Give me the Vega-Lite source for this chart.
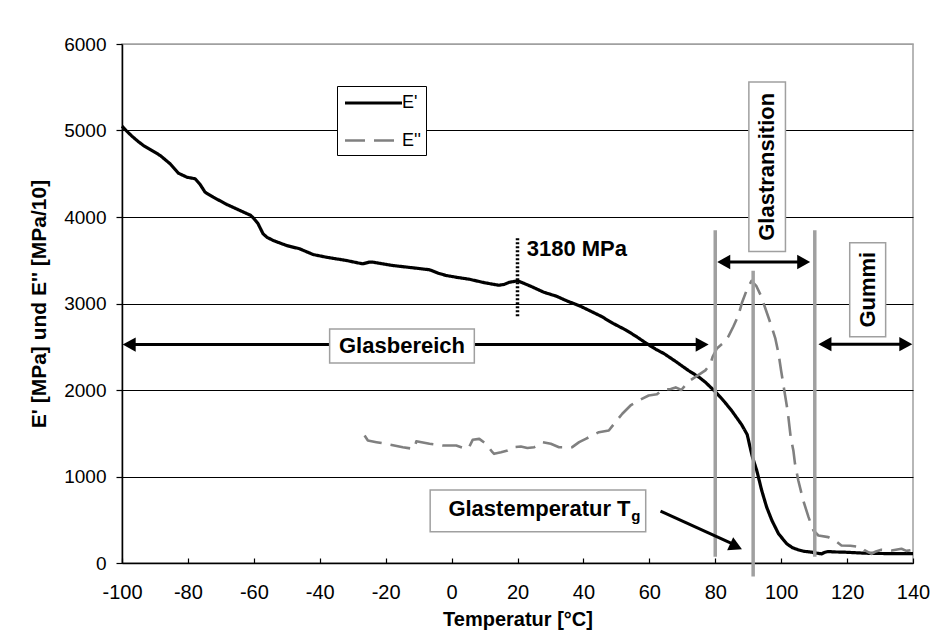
{
  "$schema": "https://vega.github.io/schema/vega-lite/v6.json",
  "width": 791,
  "height": 519,
  "autosize": {"type": "none"},
  "padding": {"left": 122, "top": 44, "right": 34, "bottom": 79},
  "background": "white",
  "config": {
    "view": {"stroke": "#a0a0a0", "strokeWidth": 1.5},
    "font": "Liberation Sans",
    "axis": {
      "domainColor": "black",
      "domainWidth": 1.5,
      "tickColor": "black",
      "tickWidth": 1.2,
      "labelColor": "black",
      "titleColor": "black",
      "labelFont": "Liberation Sans",
      "titleFont": "Liberation Sans",
      "titleFontWeight": "bold",
      "labelFlush": false
    },
    "axisX": {"labelFontSize": 20, "titleFontSize": 20, "tickSize": -5, "labelPadding": 24, "titlePadding": 7, "grid": false},
    "axisY": {"labelFontSize": 19, "titleFontSize": 21, "tickSize": 6, "labelPadding": 10, "titlePadding": 14},
    "legend": {
      "title": null, "strokeColor": "black", "fillColor": "white", "padding": 5,
      "symbolType": "M-2.85,0H2.85", "symbolSize": 400, "symbolStrokeWidth": 3.5, "symbolOffset": 19.5,
      "labelFontSize": 18, "labelFont": "Liberation Sans", "rowPadding": 17, "labelOffset": 16.5
    }
  },
  "datasets": {
    "curves": [
      {"T": -100, "E": 5050, "series": "E'"},
      {"T": -98.5, "E": 4990, "series": "E'"},
      {"T": -97, "E": 4935, "series": "E'"},
      {"T": -95, "E": 4870, "series": "E'"},
      {"T": -93.5, "E": 4827, "series": "E'"},
      {"T": -91, "E": 4770, "series": "E'"},
      {"T": -88.4, "E": 4711, "series": "E'"},
      {"T": -86.5, "E": 4650, "series": "E'"},
      {"T": -85.4, "E": 4615, "series": "E'"},
      {"T": -82.9, "E": 4507, "series": "E'"},
      {"T": -80.3, "E": 4460, "series": "E'"},
      {"T": -77.8, "E": 4442, "series": "E'"},
      {"T": -76.3, "E": 4376, "series": "E'"},
      {"T": -74.8, "E": 4287, "series": "E'"},
      {"T": -72.3, "E": 4229, "series": "E'"},
      {"T": -68.2, "E": 4145, "series": "E'"},
      {"T": -64.2, "E": 4075, "series": "E'"},
      {"T": -61, "E": 4020, "series": "E'"},
      {"T": -60.2, "E": 3991, "series": "E'"},
      {"T": -59.5, "E": 3960, "series": "E'"},
      {"T": -58.7, "E": 3921, "series": "E'"},
      {"T": -57.2, "E": 3806, "series": "E'"},
      {"T": -56, "E": 3765, "series": "E'"},
      {"T": -54.1, "E": 3728, "series": "E'"},
      {"T": -50.1, "E": 3671, "series": "E'"},
      {"T": -46.1, "E": 3632, "series": "E'"},
      {"T": -42, "E": 3566, "series": "E'"},
      {"T": -38, "E": 3535, "series": "E'"},
      {"T": -31.9, "E": 3497, "series": "E'"},
      {"T": -28.5, "E": 3470, "series": "E'"},
      {"T": -26.9, "E": 3459, "series": "E'"},
      {"T": -25, "E": 3478, "series": "E'"},
      {"T": -23.9, "E": 3478, "series": "E'"},
      {"T": -17.8, "E": 3439, "series": "E'"},
      {"T": -11.8, "E": 3413, "series": "E'"},
      {"T": -6.7, "E": 3390, "series": "E'"},
      {"T": -4, "E": 3350, "series": "E'"},
      {"T": -1.7, "E": 3324, "series": "E'"},
      {"T": 2, "E": 3300, "series": "E'"},
      {"T": 5.3, "E": 3281, "series": "E'"},
      {"T": 10, "E": 3240, "series": "E'"},
      {"T": 14.3, "E": 3211, "series": "E'"},
      {"T": 15.9, "E": 3220, "series": "E'"},
      {"T": 17.5, "E": 3245, "series": "E'"},
      {"T": 20.1, "E": 3262, "series": "E'"},
      {"T": 24.3, "E": 3195, "series": "E'"},
      {"T": 28, "E": 3130, "series": "E'"},
      {"T": 31.7, "E": 3086, "series": "E'"},
      {"T": 35, "E": 3030, "series": "E'"},
      {"T": 39.1, "E": 2969, "series": "E'"},
      {"T": 42, "E": 2915, "series": "E'"},
      {"T": 45.4, "E": 2852, "series": "E'"},
      {"T": 49, "E": 2770, "series": "E'"},
      {"T": 52.8, "E": 2695, "series": "E'"},
      {"T": 56, "E": 2620, "series": "E'"},
      {"T": 59.1, "E": 2539, "series": "E'"},
      {"T": 62, "E": 2470, "series": "E'"},
      {"T": 64.4, "E": 2422, "series": "E'"},
      {"T": 68, "E": 2330, "series": "E'"},
      {"T": 71.8, "E": 2227, "series": "E'"},
      {"T": 75, "E": 2150, "series": "E'"},
      {"T": 77, "E": 2090, "series": "E'"},
      {"T": 79.7, "E": 1992, "series": "E'"},
      {"T": 81.5, "E": 1920, "series": "E'"},
      {"T": 83.4, "E": 1836, "series": "E'"},
      {"T": 85, "E": 1760, "series": "E'"},
      {"T": 86.5, "E": 1680, "series": "E'"},
      {"T": 88, "E": 1600, "series": "E'"},
      {"T": 89.7, "E": 1484, "series": "E'"},
      {"T": 90.8, "E": 1300, "series": "E'"},
      {"T": 91.3, "E": 1223, "series": "E'"},
      {"T": 92.6, "E": 1069, "series": "E'"},
      {"T": 94.1, "E": 838, "series": "E'"},
      {"T": 95.6, "E": 645, "series": "E'"},
      {"T": 97.2, "E": 491, "series": "E'"},
      {"T": 99.2, "E": 338, "series": "E'"},
      {"T": 101.7, "E": 222, "series": "E'"},
      {"T": 103.5, "E": 175, "series": "E'"},
      {"T": 105.2, "E": 152, "series": "E'"},
      {"T": 107, "E": 135, "series": "E'"},
      {"T": 109.3, "E": 125, "series": "E'"},
      {"T": 110.5, "E": 115, "series": "E'"},
      {"T": 112.3, "E": 106, "series": "E'"},
      {"T": 113, "E": 120, "series": "E'"},
      {"T": 114.3, "E": 133, "series": "E'"},
      {"T": 116, "E": 128, "series": "E'"},
      {"T": 119.4, "E": 125, "series": "E'"},
      {"T": 125.4, "E": 113, "series": "E'"},
      {"T": 130, "E": 110, "series": "E'"},
      {"T": 135, "E": 108, "series": "E'"},
      {"T": 140, "E": 108, "series": "E'"},
      {"T": -26.4, "E": 1474, "series": "E''"},
      {"T": -25.4, "E": 1416, "series": "E''"},
      {"T": -22.8, "E": 1397, "series": "E''"},
      {"T": -18.8, "E": 1370, "series": "E''"},
      {"T": -14.8, "E": 1339, "series": "E''"},
      {"T": -11.8, "E": 1320, "series": "E''"},
      {"T": -11.2, "E": 1330, "series": "E''"},
      {"T": -10.7, "E": 1408, "series": "E''"},
      {"T": -6.7, "E": 1378, "series": "E''"},
      {"T": -2.7, "E": 1358, "series": "E''"},
      {"T": 1.4, "E": 1358, "series": "E''"},
      {"T": 4.4, "E": 1320, "series": "E''"},
      {"T": 5.2, "E": 1330, "series": "E''"},
      {"T": 6.4, "E": 1424, "series": "E''"},
      {"T": 8.4, "E": 1435, "series": "E''"},
      {"T": 10.4, "E": 1378, "series": "E''"},
      {"T": 12.4, "E": 1281, "series": "E''"},
      {"T": 12.9, "E": 1262, "series": "E''"},
      {"T": 15, "E": 1280, "series": "E''"},
      {"T": 17, "E": 1300, "series": "E''"},
      {"T": 18.5, "E": 1339, "series": "E''"},
      {"T": 21, "E": 1347, "series": "E''"},
      {"T": 23, "E": 1330, "series": "E''"},
      {"T": 25.1, "E": 1339, "series": "E''"},
      {"T": 27.6, "E": 1397, "series": "E''"},
      {"T": 30.1, "E": 1378, "series": "E''"},
      {"T": 32.6, "E": 1339, "series": "E''"},
      {"T": 36.6, "E": 1339, "series": "E''"},
      {"T": 38.7, "E": 1397, "series": "E''"},
      {"T": 40.7, "E": 1435, "series": "E''"},
      {"T": 44.7, "E": 1512, "series": "E''"},
      {"T": 47.7, "E": 1532, "series": "E''"},
      {"T": 49.7, "E": 1628, "series": "E''"},
      {"T": 51.8, "E": 1725, "series": "E''"},
      {"T": 54.3, "E": 1821, "series": "E''"},
      {"T": 56.8, "E": 1879, "series": "E''"},
      {"T": 59.8, "E": 1936, "series": "E''"},
      {"T": 62.3, "E": 1950, "series": "E''"},
      {"T": 64, "E": 2005, "series": "E''"},
      {"T": 66.5, "E": 2012, "series": "E''"},
      {"T": 68, "E": 2030, "series": "E''"},
      {"T": 69.7, "E": 2000, "series": "E''"},
      {"T": 72, "E": 2100, "series": "E''"},
      {"T": 73.9, "E": 2148, "series": "E''"},
      {"T": 77, "E": 2227, "series": "E''"},
      {"T": 78.5, "E": 2300, "series": "E''"},
      {"T": 79.2, "E": 2383, "series": "E''"},
      {"T": 80.5, "E": 2480, "series": "E''"},
      {"T": 82.3, "E": 2539, "series": "E''"},
      {"T": 84, "E": 2620, "series": "E''"},
      {"T": 85.5, "E": 2734, "series": "E''"},
      {"T": 87, "E": 2860, "series": "E''"},
      {"T": 88.1, "E": 3008, "series": "E''"},
      {"T": 89.5, "E": 3150, "series": "E''"},
      {"T": 91, "E": 3262, "series": "E''"},
      {"T": 92.5, "E": 3200, "series": "E''"},
      {"T": 93.9, "E": 3086, "series": "E''"},
      {"T": 95.5, "E": 2910, "series": "E''"},
      {"T": 97.1, "E": 2734, "series": "E''"},
      {"T": 98.2, "E": 2600, "series": "E''"},
      {"T": 99.2, "E": 2422, "series": "E''"},
      {"T": 100, "E": 2220, "series": "E''"},
      {"T": 100.8, "E": 2031, "series": "E''"},
      {"T": 102, "E": 1750, "series": "E''"},
      {"T": 102.9, "E": 1450, "series": "E''"},
      {"T": 103.7, "E": 1301, "series": "E''"},
      {"T": 104.2, "E": 1147, "series": "E''"},
      {"T": 105.2, "E": 954, "series": "E''"},
      {"T": 106.7, "E": 723, "series": "E''"},
      {"T": 108.3, "E": 530, "series": "E''"},
      {"T": 109.8, "E": 376, "series": "E''"},
      {"T": 111.3, "E": 318, "series": "E''"},
      {"T": 114.3, "E": 299, "series": "E''"},
      {"T": 116.3, "E": 260, "series": "E''"},
      {"T": 118.3, "E": 202, "series": "E''"},
      {"T": 121, "E": 200, "series": "E''"},
      {"T": 124.4, "E": 183, "series": "E''"},
      {"T": 125.4, "E": 145, "series": "E''"},
      {"T": 127.4, "E": 106, "series": "E''"},
      {"T": 128.5, "E": 130, "series": "E''"},
      {"T": 130.4, "E": 152, "series": "E''"},
      {"T": 133.5, "E": 145, "series": "E''"},
      {"T": 136.5, "E": 164, "series": "E''"},
      {"T": 138, "E": 140, "series": "E''"},
      {"T": 140, "E": 152, "series": "E''"}
    ],
    "vlines": [
      {"T": 80, "E": 73, "E2": 3848},
      {"T": 110.2, "E": 73, "E2": 3848},
      {"T": 91.5, "E": -155, "E2": 3379}
    ],
    "dotted": [{"T": 20, "E": 2852, "E2": 3770}],
    "shafts": [
      {"T": -98, "E": 2525, "T2": 76, "E2": 2525},
      {"T": 82.5, "E": 3480, "T2": 107, "E2": 3480},
      {"T": 113.3, "E": 2530, "T2": 138, "E2": 2530},
      {"T": 63.4, "E": 601, "T2": 85.6, "E2": 215}
    ],
    "headsRight": [
      {"T": 78, "E": 2525},
      {"T": 108.8, "E": 3480},
      {"T": 139.8, "E": 2530}
    ],
    "headsLeft": [
      {"T": -99.8, "E": 2525},
      {"T": 80.6, "E": 3480},
      {"T": 111.3, "E": 2530}
    ],
    "headsDiag": [{"T": 88.1, "E": 158}],
    "boxes": [
      {"T": -37, "T2": 6.9, "E": 2312, "E2": 2705},
      {"T": 90.2, "T2": 101.3, "E": 3601, "E2": 5560},
      {"T": 120.8, "T2": 131.7, "E": 2617, "E2": 3703},
      {"T": -6.5, "T2": 58.9, "E": 362, "E2": 844}
    ],
    "textCenter": [{"T": -15.05, "E": 2508, "label": "Glasbereich"}],
    "textVertical": [
      {"T": 95.75, "E": 4580, "label": "Glastransition"},
      {"T": 126.25, "E": 3160, "label": "Gummi"}
    ],
    "textLeft": [{"T": 22.8, "E": 3547, "label": "3180 MPa"}],
    "textRight": [{"T": 54.3, "E": 549, "label": "Glastemperatur T"}],
    "textSub": [{"T": 54.5, "E": 491, "label": "g"}]
  },
  "layer": [
    {
      "data": {"name": "curves"},
      "mark": {"type": "line", "strokeCap": "butt", "strokeJoin": "round"},
      "encoding": {
        "x": {
          "field": "T", "type": "quantitative", "title": "Temperatur [°C]",
          "scale": {"domain": [-100, 140], "nice": false, "zero": false},
          "axis": {
            "values": [-100, -90, -80, -70, -60, -50, -40, -30, -20, -10, 0, 10, 20, 30, 40, 50, 60, 70, 80, 90, 100, 110, 120, 130, 140],
            "labelExpr": "datum.value % 20 == 0 ? '' + datum.value : ''"
          }
        },
        "y": {
          "field": "E", "type": "quantitative", "title": "E' [MPa] und E'' [MPa/10]",
          "scale": {"domain": [0, 6000], "nice": false},
          "axis": {
            "values": [0, 1000, 2000, 3000, 4000, 5000, 6000],
            "format": "d",
            "grid": true,
            "gridWidth": 1,
            "gridColor": {"condition": {"test": "datum.value >= 6000", "value": "#a0a0a0"}, "value": "black"}
          }
        },
        "color": {
          "field": "series", "type": "nominal",
          "scale": {"domain": ["E'", "E''"], "range": ["black", "#808080"]},
          "legend": {"orient": "none", "legendX": 215, "legendY": 42}
        },
        "strokeDash": {
          "field": "series", "type": "nominal",
          "scale": {"domain": ["E'", "E''"], "range": [[1, 0], [20, 9]]},
          "legend": {"orient": "none", "legendX": 215, "legendY": 42}
        },
        "strokeWidth": {
          "field": "series", "type": "ordinal",
          "scale": {"domain": ["E'", "E''"], "range": [3.2, 2.6]},
          "legend": null
        }
      }
    },
    {
      "data": {"name": "vlines"},
      "mark": {"type": "rule", "color": "#a0a0a0", "strokeWidth": 3.5},
      "encoding": {
        "x": {"field": "T", "type": "quantitative", "title": "Temperatur [°C]"},
        "y": {"field": "E", "type": "quantitative", "title": "E' [MPa] und E'' [MPa/10]"},
        "y2": {"field": "E2"}
      }
    },
    {
      "data": {"name": "dotted"},
      "mark": {"type": "rule", "color": "black", "strokeWidth": 3.5, "strokeDash": [2, 2]},
      "encoding": {
        "x": {"field": "T", "type": "quantitative", "title": "Temperatur [°C]"},
        "y": {"field": "E", "type": "quantitative", "title": "E' [MPa] und E'' [MPa/10]"},
        "y2": {"field": "E2"}
      }
    },
    {
      "data": {"name": "shafts"},
      "mark": {"type": "rule", "color": "black", "strokeWidth": 3},
      "encoding": {
        "x": {"field": "T", "type": "quantitative", "title": "Temperatur [°C]"},
        "y": {"field": "E", "type": "quantitative", "title": "E' [MPa] und E'' [MPa/10]"},
        "x2": {"field": "T2"},
        "y2": {"field": "E2"}
      }
    },
    {
      "data": {"name": "headsRight"},
      "mark": {"type": "point", "shape": "M0,0L-2,-1.1L-2,1.1Z", "filled": true, "color": "black", "opacity": 1, "size": 169, "angle": 0},
      "encoding": {
        "x": {"field": "T", "type": "quantitative", "title": "Temperatur [°C]"},
        "y": {"field": "E", "type": "quantitative", "title": "E' [MPa] und E'' [MPa/10]"}
      }
    },
    {
      "data": {"name": "headsLeft"},
      "mark": {"type": "point", "shape": "M0,0L-2,-1.1L-2,1.1Z", "filled": true, "color": "black", "opacity": 1, "size": 169, "angle": 180},
      "encoding": {
        "x": {"field": "T", "type": "quantitative", "title": "Temperatur [°C]"},
        "y": {"field": "E", "type": "quantitative", "title": "E' [MPa] und E'' [MPa/10]"}
      }
    },
    {
      "data": {"name": "headsDiag"},
      "mark": {"type": "point", "shape": "M0,0L-2,-1.1L-2,1.1Z", "filled": true, "color": "black", "opacity": 1, "size": 169, "angle": 25},
      "encoding": {
        "x": {"field": "T", "type": "quantitative", "title": "Temperatur [°C]"},
        "y": {"field": "E", "type": "quantitative", "title": "E' [MPa] und E'' [MPa/10]"}
      }
    },
    {
      "data": {"name": "boxes"},
      "mark": {"type": "rect", "fill": "white", "stroke": "#a0a0a0", "strokeWidth": 1.5},
      "encoding": {
        "x": {"field": "T", "type": "quantitative", "title": "Temperatur [°C]"},
        "x2": {"field": "T2"},
        "y": {"field": "E", "type": "quantitative", "title": "E' [MPa] und E'' [MPa/10]"},
        "y2": {"field": "E2"}
      }
    },
    {
      "data": {"name": "textCenter"},
      "mark": {"type": "text", "font": "Liberation Sans", "fontWeight": "bold", "fontSize": 22, "align": "center", "baseline": "middle", "color": "black"},
      "encoding": {
        "x": {"field": "T", "type": "quantitative", "title": "Temperatur [°C]"},
        "y": {"field": "E", "type": "quantitative", "title": "E' [MPa] und E'' [MPa/10]"},
        "text": {"field": "label"}
      }
    },
    {
      "data": {"name": "textVertical"},
      "mark": {"type": "text", "font": "Liberation Sans", "fontWeight": "bold", "fontSize": 22, "align": "center", "baseline": "middle", "angle": 270, "color": "black"},
      "encoding": {
        "x": {"field": "T", "type": "quantitative", "title": "Temperatur [°C]"},
        "y": {"field": "E", "type": "quantitative", "title": "E' [MPa] und E'' [MPa/10]"},
        "text": {"field": "label"}
      }
    },
    {
      "data": {"name": "textLeft"},
      "mark": {"type": "text", "font": "Liberation Sans", "fontWeight": "bold", "fontSize": 22, "align": "left", "baseline": "alphabetic", "color": "black"},
      "encoding": {
        "x": {"field": "T", "type": "quantitative", "title": "Temperatur [°C]"},
        "y": {"field": "E", "type": "quantitative", "title": "E' [MPa] und E'' [MPa/10]"},
        "text": {"field": "label"}
      }
    },
    {
      "data": {"name": "textRight"},
      "mark": {"type": "text", "font": "Liberation Sans", "fontWeight": "bold", "fontSize": 22, "align": "right", "baseline": "alphabetic", "color": "black"},
      "encoding": {
        "x": {"field": "T", "type": "quantitative", "title": "Temperatur [°C]"},
        "y": {"field": "E", "type": "quantitative", "title": "E' [MPa] und E'' [MPa/10]"},
        "text": {"field": "label"}
      }
    },
    {
      "data": {"name": "textSub"},
      "mark": {"type": "text", "font": "Liberation Sans", "fontWeight": "bold", "fontSize": 15, "align": "left", "baseline": "alphabetic", "color": "black"},
      "encoding": {
        "x": {"field": "T", "type": "quantitative", "title": "Temperatur [°C]"},
        "y": {"field": "E", "type": "quantitative", "title": "E' [MPa] und E'' [MPa/10]"},
        "text": {"field": "label"}
      }
    }
  ]
}
